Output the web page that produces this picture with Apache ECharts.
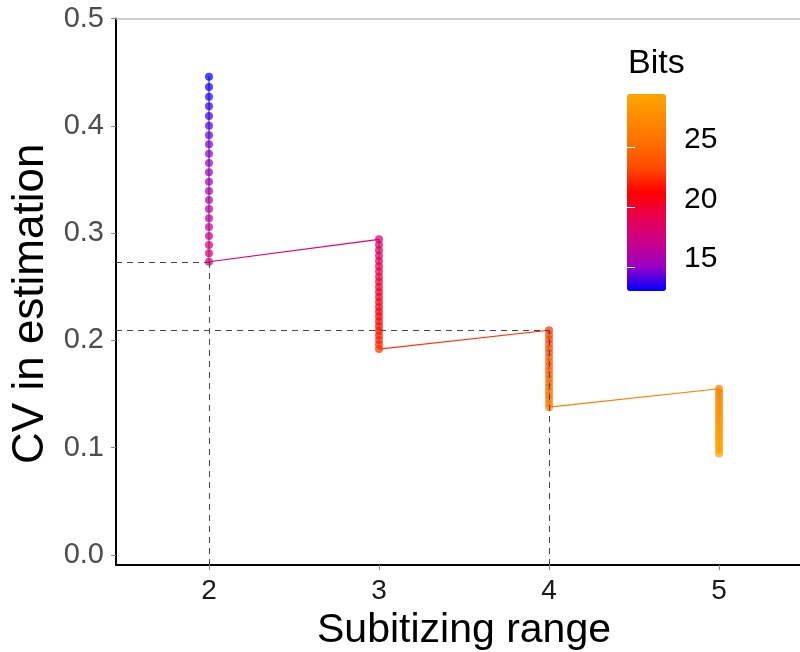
<!DOCTYPE html>
<html>
<head>
<meta charset="utf-8">
<script src="https://cdn.jsdelivr.net/npm/echarts@6/dist/echarts.min.js"></script>
<style>html,body{margin:0;padding:0;background:#fff}#c{width:800px;height:652px}</style>
</head>
<body>
<div id="c"></div>
<script>
// ---- data ----
const ranges = [2, 3, 4, 5];
const cv2 = [0.4458,0.4362,0.4271,0.4182,0.4091,0.4001,0.3911,0.3828,0.3740,0.3653,0.3567,0.3479,0.3392,0.3308,0.3224,0.3138,0.3057,0.2973,0.2889,0.2812,0.2733];
const bits2 = [13.0,13.25,13.5,13.75,14.0,14.25,14.5,14.75,15.0,15.25,15.5,15.75,16.0,16.25,16.5,16.75,17.0,17.25,17.5,17.75,18.0];
const cv3 = [0.2942,0.2891,0.2840,0.2790,0.2740,0.2691,0.2642,0.2594,0.2546,0.2498,0.2451,0.2404,0.2358,0.2312,0.2267,0.2222,0.2177,0.2133,0.2089,0.2046,0.2003,0.1961,0.1919];
const bits3 = [18.2,18.4,18.6,18.8,19.0,19.2,19.4,19.6,19.8,20.0,20.2,20.4,20.6,20.8,21.0,21.2,21.4,21.6,21.8,22.0,22.2,22.4,22.6];
const cv4 = [0.2094,0.2051,0.2009,0.1967,0.1925,0.1884,0.1843,0.1802,0.1762,0.1722,0.1682,0.1643,0.1604,0.1565,0.1527,0.1489,0.1452,0.1415,0.1378];
const bits4 = [22.8,23.0,23.2,23.4,23.6,23.8,24.0,24.2,24.4,24.6,24.8,25.0,25.2,25.4,25.6,25.8,26.0,26.2,26.4];
const cv5 = [0.1550,0.1515,0.1481,0.1447,0.1413,0.1380,0.1347,0.1314,0.1282,0.1250,0.1218,0.1187,0.1156,0.1125,0.1095,0.1065,0.1035,0.1005,0.0976,0.0947];
const bits5 = [26.6,26.75,26.9,27.05,27.2,27.35,27.5,27.65,27.8,27.95,28.1,28.25,28.4,28.55,28.7,28.85,29.0,29.15,29.3,29.45];
const yTicks = [0, 0.1, 0.2, 0.3, 0.4, 0.5];
const bitsTicks = [15, 20, 25];
const bitsMin = 13, bitsMax = 29.5;

// ---- styling helpers ----
const stops = ['#0000FF','#9A00C3','#CA0089','#E80050','#FF0000','#FF4B00','#FF6E00','#FF8B00','#FFA500'];
function hex2rgb(h){return [parseInt(h.substr(1,2),16),parseInt(h.substr(3,2),16),parseInt(h.substr(5,2),16)];}
function colorFor(b){
  let t = (b - bitsMin) / (bitsMax - bitsMin);
  t = Math.max(0, Math.min(1, t)) * (stops.length - 1);
  const i = Math.min(stops.length - 2, Math.floor(t)), f = t - i;
  const a = hex2rgb(stops[i]), c = hex2rgb(stops[i+1]);
  const r = a.map((v,k)=>Math.round(v + (c[k]-v)*f));
  return 'rgb(' + r.join(',') + ')';
}

const cols = [cv2, cv3, cv4, cv5];
const bitsCols = [bits2, bits3, bits4, bits5];
const pts = [];
cols.forEach((col, i) => col.forEach((v, j) => pts.push([ranges[i], v, bitsCols[i][j]])));

const xMin = 1.453, xMax = 5.476, yMin = -0.0093, yMax = 0.5;
const FONT = 'Liberation Sans, Arial, sans-serif';

const series = [];
series.push({
  type: 'scatter', xAxisIndex: 0, yAxisIndex: 0, data: pts,
  symbolSize: 8, itemStyle: { opacity: 0.72 }, z: 3
});
// column lines
cols.forEach((col, i) => {
  const b = bitsCols[i];
  series.push({
    type: 'line', xAxisIndex: 0, yAxisIndex: 0, symbol: 'none', z: 4,
    data: col.map(v => [ranges[i], v]),
    lineStyle: { width: 1, color: new echarts.graphic.LinearGradient(0,0,0,1,[
      {offset:0,color:colorFor(b[0])},{offset:1,color:colorFor(b[b.length-1])}]) }
  });
});
// connecting lines between columns
for (let i = 0; i < cols.length - 1; i++) {
  const b = bitsCols[i];
  series.push({
    type: 'line', xAxisIndex: 0, yAxisIndex: 0, symbol: 'none', z: 4,
    data: [[ranges[i], cols[i][cols[i].length-1]], [ranges[i+1], cols[i+1][0]]],
    lineStyle: { width: 1.1, color: colorFor(b[b.length-1]) }
  });
}
// reference dashed lines + top line
const h1 = cv2[cv2.length-1], h2 = cv4[0];
series.push({
  type: 'line', xAxisIndex: 0, yAxisIndex: 0, data: [], z: 2,
  markLine: {
    silent: true, symbol: ['none','none'], animation: false, label: { show: false },
    lineStyle: { type: [6,5], color: '#444', width: 1 },
    data: [
      [{coord:[xMin, h1]},{coord:[ranges[0], h1]}],
      [{coord:[ranges[0], yMin]},{coord:[ranges[0], h1]}],
      [{coord:[xMin, h2]},{coord:[ranges[2], h2]}],
      [{coord:[ranges[2], yMin]},{coord:[ranges[2], h2]}],
      [{coord:[xMin, yMax], lineStyle:{type:'solid', color:'#bdbdbd', width:1.5}},{coord:[xMax, yMax]}]
    ]
  }
});
series.push({ type: 'scatter', xAxisIndex: 1, yAxisIndex: 1, data: [] });

const chart = echarts.init(document.getElementById('c'), null, { renderer: 'canvas' });
chart.setOption({
  animation: false,
  backgroundColor: '#fff',
  textStyle: { fontFamily: FONT },
  title: { text: 'Bits', left: 623, top: 42, textStyle: { fontSize: 34, fontWeight: 'normal', color: '#000', fontFamily: FONT } },
  grid: [
    { left: 116, right: 0, top: 18.5, bottom: 87, containLabel: false, outerBoundsMode: 'none' },
    { left: 627, top: 94, width: 39, height: 197, containLabel: false, outerBoundsMode: 'none' }
  ],
  xAxis: [
    { type: 'value', gridIndex: 0, min: xMin, max: xMax,
      name: 'Subitizing range', nameLocation: 'middle', nameGap: 38,
      nameTextStyle: { fontSize: 41, color: '#000', fontFamily: FONT, padding: [0, 0, 0, 12] },
      axisLine: { show: true, onZero: false, lineStyle: { color: '#000', width: 2 } },
      axisTick: { show: true, customValues: ranges, length: 5, lineStyle: { color: '#888' } },
      axisLabel: { customValues: ranges, fontSize: 28, color: '#1a1a1a', margin: 12, fontFamily: FONT },
      splitLine: { show: false } },
    { type: 'value', gridIndex: 1, min: 0, max: 1, show: false }
  ],
  yAxis: [
    { type: 'value', gridIndex: 0, min: yMin, max: yMax,
      name: 'CV in estimation', nameLocation: 'middle', nameGap: 51,
      nameTextStyle: { fontSize: 44, color: '#000', fontFamily: FONT, padding: [0, 24, 0, 0] },
      axisLine: { show: true, onZero: false, lineStyle: { color: '#000', width: 2 } },
      axisTick: { show: true, customValues: yTicks, length: 5, lineStyle: { color: '#888' } },
      axisLabel: { customValues: yTicks, fontSize: 29, color: '#4d4d4d', margin: 12, fontFamily: FONT,
        formatter: v => v.toFixed(1) },
      splitLine: { show: false } },
    { type: 'value', gridIndex: 1, min: bitsMin, max: bitsMax, position: 'right', z: 10,
      axisLine: { show: false },
      axisTick: { show: true, inside: true, length: 8, customValues: bitsTicks, lineStyle: { color: '#fff', width: 1 } },
      axisLabel: { customValues: bitsTicks, fontSize: 30, color: '#000', margin: 18, fontFamily: FONT,
        verticalAlign: 'bottom', lineHeight: 16 },
      splitLine: { show: false } },
    { type: 'value', gridIndex: 1, min: bitsMin, max: bitsMax, position: 'left', z: 10,
      axisLine: { show: false },
      axisTick: { show: true, inside: true, length: 8, customValues: bitsTicks, lineStyle: { color: '#fff', width: 1 } },
      axisLabel: { show: false }, splitLine: { show: false } }
  ],
  visualMap: {
    type: 'continuous', min: bitsMin, max: bitsMax, dimension: 2, seriesIndex: 0,
    inRange: { color: stops }, show: true, calculable: false, hoverLink: false,
    left: 627, top: 94, itemWidth: 39, itemHeight: 197, padding: 0, text: null, z: 4
  },
  series: series
});
</script>
</body>
</html>
